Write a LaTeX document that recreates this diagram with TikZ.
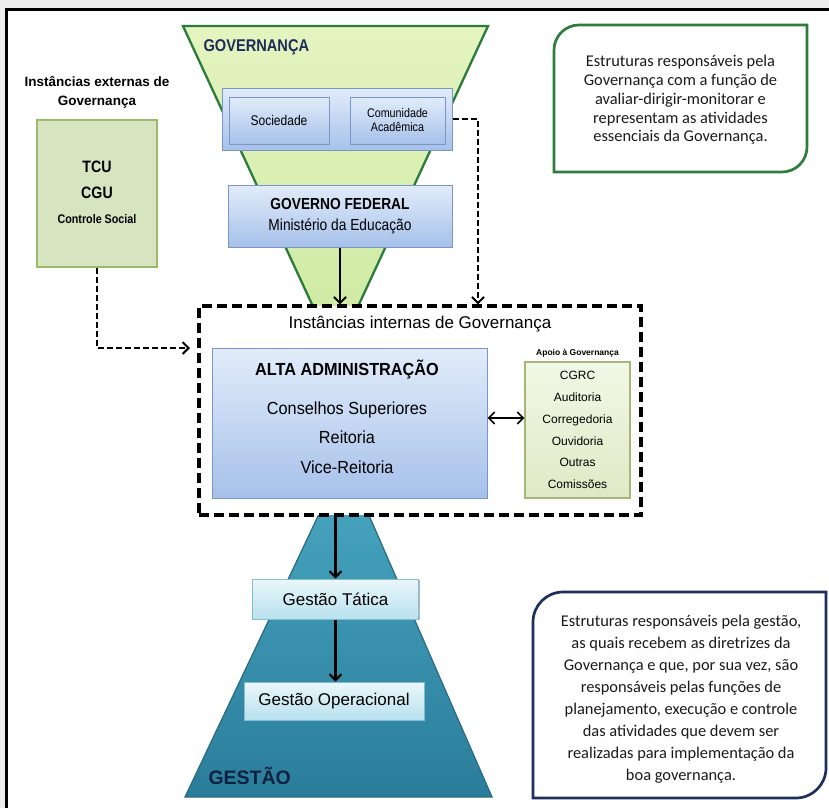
\documentclass[tikz,border=0pt]{standalone}
\usepackage{fontspec}
\setmainfont{Liberation Sans}
\newfontfamily\narrowsans[FakeStretch=0.86]{Liberation Sans}
\newfontfamily\semisans[FakeStretch=0.93]{Liberation Sans}
\newfontfamily\notefont{Carlito}
\usetikzlibrary{arrows.meta,shadows}

\definecolor{pagegray}{HTML}{EDEDED}
\definecolor{funnelTop}{HTML}{E4F4C0}
\definecolor{funnelBot}{HTML}{CDE9A0}
\definecolor{funnelEdge}{HTML}{2B7B3B}
\definecolor{blueTop}{HTML}{E2ECFA}
\definecolor{blueBot}{HTML}{A6C1EA}
\definecolor{blueEdge}{HTML}{7A96C4}
\definecolor{oliveFill}{HTML}{D6E4BF}
\definecolor{oliveEdge}{HTML}{9CBA6C}
\definecolor{apoioTop}{HTML}{F3F7E6}
\definecolor{apoioBot}{HTML}{E0E9C6}
\definecolor{apoioEdge}{HTML}{A3B878}
\definecolor{pyrTop}{HTML}{45A2BC}
\definecolor{pyrBot}{HTML}{2A7D9A}
\definecolor{pyrEdge}{HTML}{2A6A80}
\definecolor{cyanTop}{HTML}{EAF7FB}
\definecolor{cyanBot}{HTML}{B8E1EE}
\definecolor{cyanEdge}{HTML}{84BDD0}
\definecolor{noteGreen}{HTML}{2E7D3C}
\definecolor{noteNavy}{HTML}{1D2F5F}
\definecolor{titleNavy}{HTML}{1D2C5A}
\definecolor{gestNavy}{HTML}{0C2140}
\definecolor{bodytext}{HTML}{1A1A1A}

\begin{document}
\begin{tikzpicture}[x=1pt,y=-1pt,
  softshadow/.style={drop shadow={shadow xshift=1.3pt,shadow yshift=-1.3pt,opacity=0.28,fill=black}},
  bluebox/.style={draw=blueEdge,line width=1pt,top color=blueTop,bottom color=blueBot,softshadow},
  tcubox/.style={draw=oliveEdge,line width=1.4pt,fill=oliveFill},
  apoiobox/.style={draw=apoioEdge,line width=1.1pt,top color=apoioTop,bottom color=apoioBot,softshadow},
  cyanbox/.style={draw=cyanEdge,line width=1pt,top color=cyanTop,bottom color=cyanBot,softshadow},
  intframe/.style={draw=black,fill=white,line width=3.3pt,dash pattern=on 10pt off 5pt},
  arr/.style={draw=black,line width=2.3pt,-{Straight Barb[length=6pt,width=12pt,line width=2pt]}},
  dblarr/.style={draw=black,line width=1.7pt,{Straight Barb[length=6pt,width=12pt,line width=1.6pt]}-{Straight Barb[length=6pt,width=12pt,line width=1.6pt]}},
  dasharr/.style={draw=black,line width=2.3pt,dash pattern=on 6pt off 3pt,-{Straight Barb[length=6pt,width=12pt,line width=2pt]}},
  notetext/.style={font=\notefont\fontsize{16.4}{18.8}\selectfont,text=bodytext,align=center}
]
\useasboundingbox (0,0) rectangle (829,808);

% page and frame
\fill[pagegray] (0,0) rectangle (829,808);
\fill[white] (6,9) rectangle (829,808);
\draw[line width=3pt] (6.5,808) -- (6.5,9.5) -- (829,9.5);

% governance funnel and management pyramid
\draw[funnelEdge,line width=2.3pt,top color=funnelTop,bottom color=funnelBot]
  (183,26) -- (488,26) -- (335.5,355) -- cycle;
\draw[pyrEdge,line width=1.2pt,top color=pyrTop,bottom color=pyrBot]
  (319.5,513) -- (368,513) -- (492,797) -- (185,797) -- cycle;

% internal governance frame
\node[intframe,minimum width=442pt,minimum height=209pt] (int) at (420,410.5) {};
\node[font=\fontsize{17}{20}\selectfont] (inttitle) at (420,324) {Instâncias internas de Governança};

% governance title and society boxes
\node[anchor=west,font=\narrowsans\bfseries\fontsize{17}{20}\selectfont,text=titleNavy] (govtitle) at (200,47) {GOVERNANÇA};
\node[bluebox,minimum width=230pt,minimum height=62pt] (grp) at (337,119) {};
\node[bluebox,minimum width=100pt,minimum height=47pt,font=\narrowsans\fontsize{14}{16}\selectfont] (soc) at (279,120.5) {Sociedade};
\node[bluebox,minimum width=95pt,minimum height=47pt,align=center,font=\narrowsans\fontsize{12.5}{14}\selectfont] (com) at (397.5,120.5) {Comunidade\\Acadêmica};

\node[bluebox,minimum width=224pt,minimum height=62pt,align=center,font=\narrowsans\fontsize{16}{20.5}\selectfont] (gov) at (340,216) {{\bfseries GOVERNO FEDERAL}\\Ministério da Educação};

% external instances
\node[align=center,font=\bfseries\fontsize{13.5}{19}\selectfont] (extlabel) at (97,92.5) {Instâncias externas de\\Governança};
\node[tcubox,minimum width=120pt,minimum height=147pt] (tcu) at (97,193.5) {};
\node[font=\narrowsans\bfseries\fontsize{16.5}{18}\selectfont] (tcut) at (97,167) {TCU};
\node[font=\narrowsans\bfseries\fontsize{16.5}{18}\selectfont] (cgut) at (97,193) {CGU};
\node[font=\narrowsans\bfseries\fontsize{12.5}{14}\selectfont] (cst) at (97,219) {Controle Social};

% top administration and support
\node[bluebox,minimum width=275pt,minimum height=150pt] (alta) at (349.5,423) {};
\node[font=\semisans\bfseries\fontsize{17.5}{20}\selectfont] (altat) at (347,370) {ALTA ADMINISTRAÇÃO};
\node[align=center,font=\semisans\fontsize{17.5}{29.5}\selectfont] (altal) at (347,437.5) {Conselhos Superiores\\Reitoria\\Vice-Reitoria};

\node[font=\bfseries\fontsize{8.5}{10}\selectfont] (apoiot) at (577.5,353) {Apoio à Governança};
\node[apoiobox,minimum width=105pt,minimum height=136pt,align=center,font=\fontsize{12}{21.8}\selectfont] (apoio) at (577.5,430) {CGRC\\Auditoria\\Corregedoria\\Ouvidoria\\Outras\\Comissões};

% management levels
\node[cyanbox,minimum width=166pt,minimum height=40pt,font=\fontsize{17}{20}\selectfont] (tatica) at (335.5,599) {Gestão Tática};
\node[cyanbox,minimum width=180pt,minimum height=38pt,font=\fontsize{17}{20}\selectfont] (oper) at (334,701) {Gestão Operacional};
\node[anchor=west,font=\bfseries\fontsize{19.5}{22}\selectfont,text=gestNavy] (gestao) at (205,776) {GESTÃO};

% explanatory notes
\draw[noteGreen,line width=2.7pt,fill=white]
  (554,172) -- (554,50) .. controls (554,36.2) and (565.2,25) .. (579,25)
  -- (807,25) -- (807,147) .. controls (807,160.8) and (795.8,172) .. (782,172) -- cycle;
\node[notetext] (topnote) at (680.5,100) {Estruturas responsáveis pela\\Governança com a função de\\avaliar-dirigir-monitorar e\\representam as atividades\\essenciais da Governança.};

\draw[noteNavy,line width=2.7pt,fill=white]
  (533,798) -- (533,622) .. controls (533,605.5) and (546.5,592) .. (563,592)
  -- (826,592) -- (826,768) .. controls (826,784.5) and (812.5,798) .. (796,798) -- cycle;
\node[notetext,font=\notefont\fontsize{16.4}{22}\selectfont] (botnote) at (681,699.5) {Estruturas responsáveis pela gestão,\\as quais recebem as diretrizes da\\Governança e que, por sua vez, são\\responsáveis pelas funções de\\planejamento, execução e controle\\das atividades que devem ser\\realizadas para implementação da\\boa governança.};

% connectors
\coordinate (comdrop) at (478,0);
\coordinate (extin) at (190,348);
\coordinate (dbl) at (500,418);
\draw[arr] (gov.south) -- (gov.south |- int.north);
\draw[dasharr] (grp.east) -| (comdrop |- int.north);
\draw[dasharr] (tcu.south) |- (extin);
\draw[dblarr] (alta.east |- dbl) -- (apoio.west |- dbl);
\draw[arr] (tatica.north |- int.south) -- (tatica.north);
\draw[arr] (tatica.south) -- (tatica.south |- oper.north);
\end{tikzpicture}
\end{document}
